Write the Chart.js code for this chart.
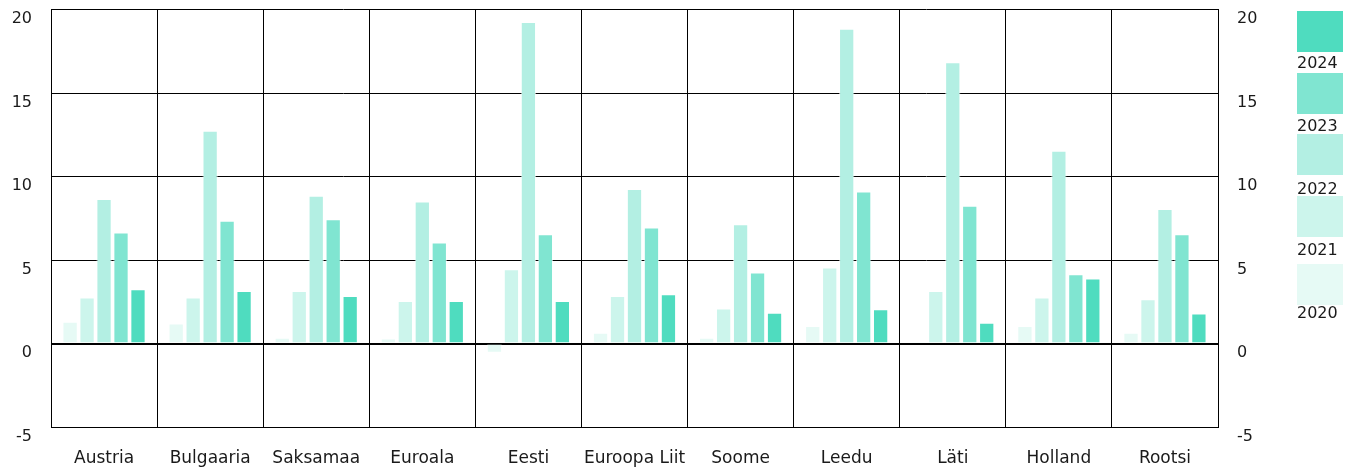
<!DOCTYPE html>
<html>
<head>
<meta charset="utf-8">
<script src="https://cdn.jsdelivr.net/npm/chart.js@4.4.1/dist/chart.umd.min.js"></script>
<style>
  html, body { margin: 0; padding: 0; background: #fff; }
  #wrap { position: relative; width: 1359px; height: 469px; overflow: hidden; }
  #c { position: absolute; left: 0; top: 0; }
  #legend { position: absolute; left: 1297px; top: 0; width: 60px; height: 469px;
            font-family: "DejaVu Sans", sans-serif; font-size: 16px; color: #1a1a1a; }
  .box { position: absolute; left: 0; width: 46px; height: 41px; }
  .lab { position: absolute; left: 0; line-height: 16px; white-space: nowrap; }
</style>
</head>
<body>
<div id="wrap">
  <canvas id="c" width="1359" height="469"></canvas>
  <div id="legend"></div>
</div>
<script>
// Annual inflation by country, 2020–2024 (%)
const categories = ['Austria', 'Bulgaaria', 'Saksamaa', 'Euroala', 'Eesti', 'Euroopa Liit', 'Soome', 'Leedu', 'Läti', 'Holland', 'Rootsi'];
const years = ['2020', '2021', '2022', '2023', '2024'];
const values2020 = [1.3, 1.2, 0.35, 0.3, -0.55, 0.65, 0.35, 1.05, 0.1, 1.05, 0.65];
const values2021 = [2.75, 2.75, 3.15, 2.55, 4.45, 2.85, 2.1, 4.55, 3.15, 2.75, 2.65];
const values2022 = [8.65, 12.75, 8.85, 8.5, 19.25, 9.25, 7.15, 18.85, 16.85, 11.55, 8.05];
const values2023 = [6.65, 7.35, 7.45, 6.05, 6.55, 6.95, 4.25, 9.1, 8.25, 4.15, 6.55];
const values2024 = [3.25, 3.15, 2.85, 2.55, 2.55, 2.95, 1.85, 2.05, 1.25, 3.9, 1.8];
const yTickMin = -5;
const yTickMax = 20;
const yTickStep = 5;
const seriesColors = ['#e6faf5', '#ccf5ec', '#b3efe3', '#80e5d1', '#4fdcbf'];

const seriesValues = [values2020, values2021, values2022, values2023, values2024];

const FONT = '"DejaVu Sans", sans-serif';
const TEXT = '#1a1a1a';
const PLOT_LEFT = 51, PLOT_RIGHT = 1218, PLOT_BOTTOM = 427;
const RIGHT_AXIS_W = 60;

const datasets = years.map((y, i) => ({
  label: y,
  data: seriesValues[i],
  backgroundColor: seriesColors[i],
  borderColor: 'rgba(255,255,255,0.6)',
  borderWidth: 1,
  borderSkipped: 'start',
  categoryPercentage: 0.8,
  barPercentage: 0.9
}));

// Gap between axis line and tick text comes from an invisible tick mark,
// so the label padding does not push the plot area down.
const yTicksCommon = {
  color: TEXT,
  font: { family: FONT, size: 16 },
  padding: 0,
  labelOffset: 9.5,
  stepSize: yTickStep
};
const yGridOutside = { drawOnChartArea: false, drawTicks: true, tickLength: 19, tickColor: 'rgba(0,0,0,0)' };

new Chart(document.getElementById('c'), {
  type: 'bar',
  data: { labels: categories, datasets },
  options: {
    responsive: false,
    animation: false,
    devicePixelRatio: 1,
    layout: { padding: { left: 0, top: 9, right: 1359 - PLOT_RIGHT - RIGHT_AXIS_W, bottom: 0 } },
    plugins: { legend: { display: false }, tooltip: { enabled: false } },
    scales: {
      x: {
        offset: true,
        grid: { color: '#000', lineWidth: 1, drawTicks: false, offset: true },
        border: { color: '#000', width: 1 },
        ticks: { color: TEXT, font: { family: FONT, size: 17 }, padding: 21, maxRotation: 0, autoSkip: false },
        afterFit: (s) => { s.height = 469 - PLOT_BOTTOM; }
      },
      y: {
        position: 'left',
        min: yTickMin, max: yTickMax,
        grid: {
          color: '#000',
          lineWidth: (ctx) => (ctx.tick && ctx.tick.value === 0 ? 2 : 1),
          drawTicks: true,
          tickLength: 19,
          tickColor: 'rgba(0,0,0,0)'
        },
        border: { color: '#000', width: 1 },
        ticks: yTicksCommon,
        afterFit: (s) => { s.width = PLOT_LEFT; }
      },
      y2: {
        position: 'right',
        min: yTickMin, max: yTickMax,
        grid: yGridOutside,
        border: { color: '#000', width: 1 },
        ticks: yTicksCommon,
        afterFit: (s) => { s.width = RIGHT_AXIS_W; }
      }
    }
  }
});

// Stacked legend on the right: newest year on top, label under each swatch
const legendBoxTops = [11, 73, 134, 196, 264];
const legendTextTops = [55, 118, 181, 242, 305];
const legendEl = document.getElementById('legend');
years.slice().reverse().forEach((y, k) => {
  const idx = years.length - 1 - k;
  const box = document.createElement('div');
  box.className = 'box';
  box.style.top = legendBoxTops[k] + 'px';
  box.style.background = seriesColors[idx];
  legendEl.appendChild(box);
  const lab = document.createElement('div');
  lab.className = 'lab';
  lab.style.top = legendTextTops[k] + 'px';
  lab.textContent = y;
  legendEl.appendChild(lab);
});
</script>
</body>
</html>
